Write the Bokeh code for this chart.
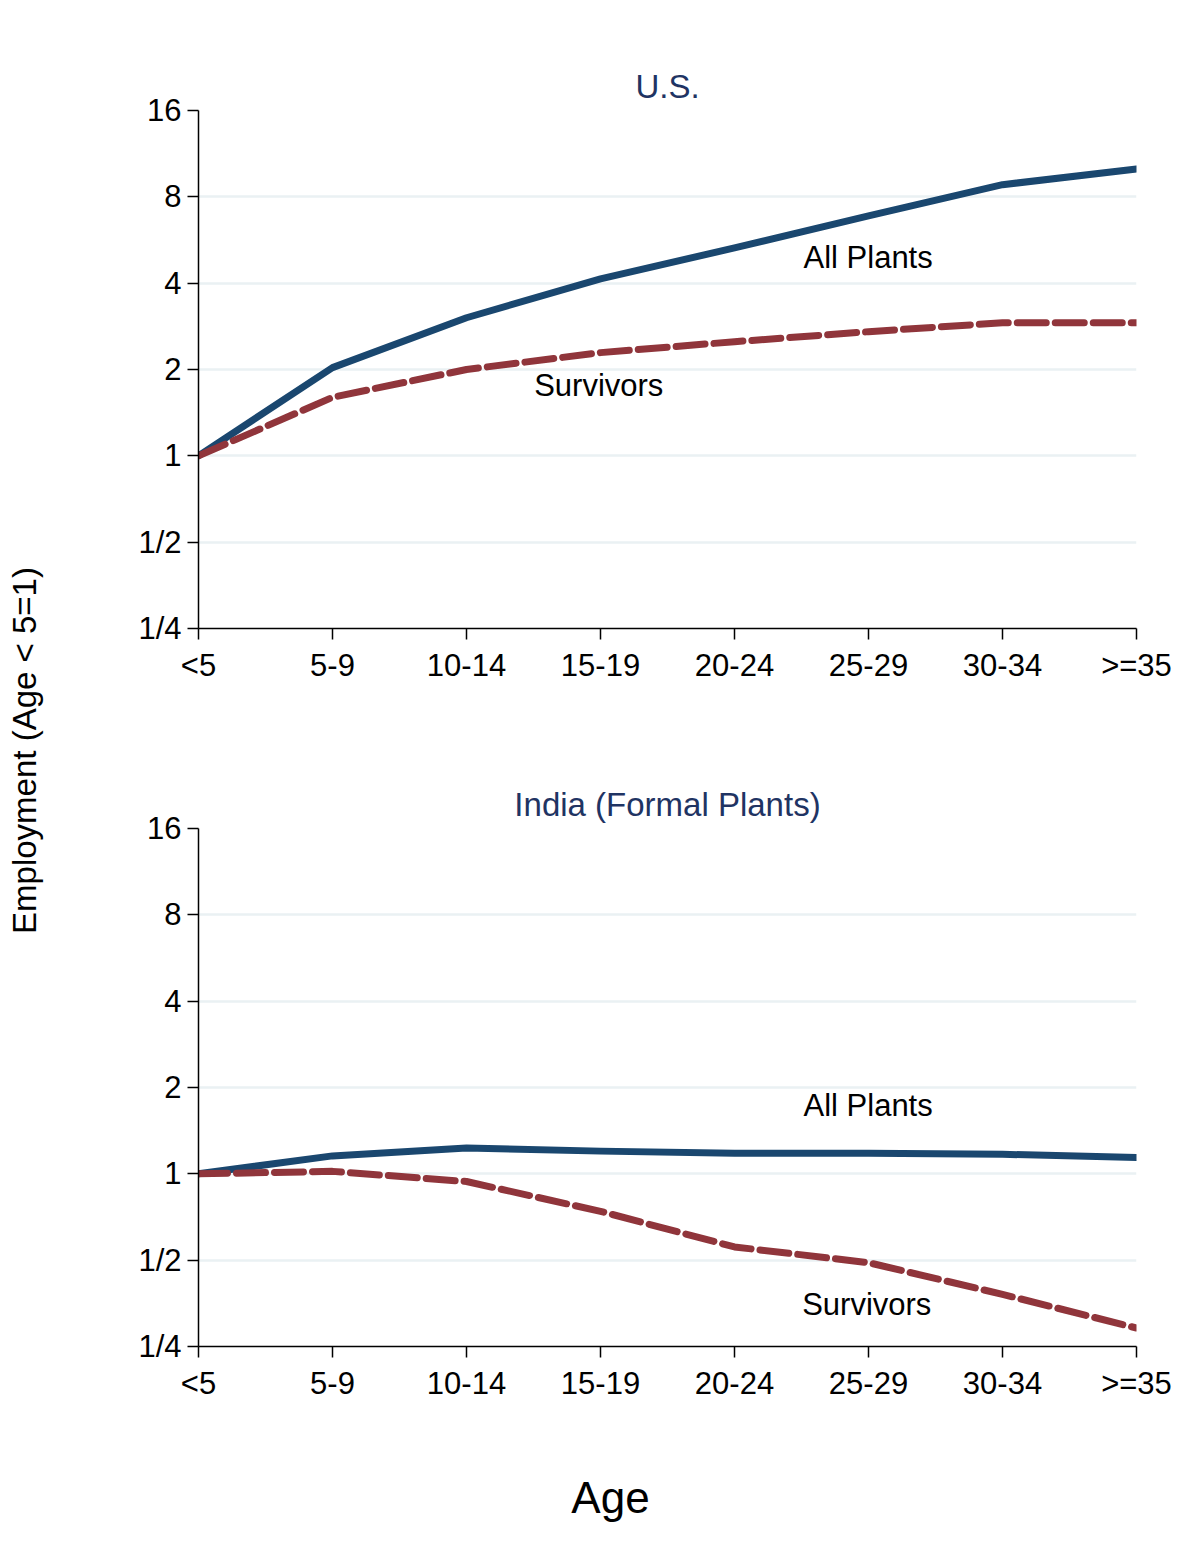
import math
from bokeh.plotting import figure
from bokeh.models import Range1d, FixedTicker, Label, ColumnDataSource
from bokeh.layouts import row, column
from bokeh.embed import file_html
from bokeh.resources import INLINE

# ---------------- data ----------------
categories = ["<5", "5-9", "10-14", "15-19", "20-24", "25-29", "30-34", ">=35"]
us_all = [1.0, 2.03, 3.03, 4.14, 5.31, 6.87, 8.82, 10.0]
us_survivors = [1.0, 1.60, 2.00, 2.29, 2.50, 2.71, 2.91, 2.91]
india_all = [1.0, 1.155, 1.23, 1.20, 1.18, 1.18, 1.17, 1.14]
india_survivors = [1.0, 1.02, 0.94, 0.74, 0.556, 0.49, 0.38, 0.29]
y_ticks = [0.25, 0.5, 1, 2, 4, 8, 16]
y_tick_labels = ["1/4", "1/2", "1", "2", "4", "8", "16"]
grid_ticks = [0.5, 1, 2, 4, 8]

FONT = "Liberation Sans"
BLUE = "#1a476f"
RED = "#90353b"
TITLE_C = "#1f3463"
GRID_C = "#eaf1f3"

STRIP_W = 58
W = 1132
LEFT, RIGHT = 140, 54
TOP_H, BOT_H, AGE_H = 740, 676, 134


def blank_fig(width, height):
    f = figure(width=width, height=height, x_range=Range1d(0, 1), y_range=Range1d(0, 1),
               output_backend="svg", toolbar_location=None,
               x_axis_location=None, y_axis_location=None,
               min_border_left=0, min_border_right=0, min_border_top=0, min_border_bottom=0)
    f.outline_line_color = None
    f.xgrid.visible = False
    f.ygrid.visible = False
    return f


def make_panel(title, all_vals, surv_vals, height, top, bottom, notes):
    p = figure(width=W, height=height, y_axis_type="log",
               x_range=Range1d(0, len(categories) - 1),
               y_range=Range1d(y_ticks[0], y_ticks[-1]),
               output_backend="svg", toolbar_location=None,
               min_border_left=LEFT, min_border_right=RIGHT,
               min_border_top=top, min_border_bottom=bottom)
    p.outline_line_color = None
    p.background_fill_color = "white"
    p.border_fill_color = "white"
    xs = list(range(len(categories)))
    src = ColumnDataSource(dict(x=xs, a=all_vals, s=surv_vals))
    p.line("x", "a", source=src, line_color=BLUE, line_width=7,
           line_cap="round", line_join="round")
    p.line("x", "s", source=src, line_color=RED, line_width=7,
           line_dash="29 9", line_cap="round", line_join="round")

    # axes
    p.xaxis.ticker = FixedTicker(ticks=xs)
    p.xaxis.major_label_overrides = {i: c for i, c in enumerate(categories)}
    p.yaxis.ticker = FixedTicker(ticks=y_ticks)
    p.yaxis.major_label_overrides = {float(t): l for t, l in zip(y_ticks, y_tick_labels)}
    for ax in (p.xaxis, p.yaxis):
        ax.axis_line_color = "black"
        ax.axis_line_width = 1.5
        ax.major_tick_line_color = "black"
        ax.major_tick_line_width = 1.5
        ax.major_tick_in = 0
        ax.major_tick_out = 11
        ax.minor_tick_line_color = None
        ax.major_label_text_font = FONT
        ax.major_label_text_font_size = "31px"
        ax.major_label_text_color = "black"
    p.xaxis.major_label_standoff = 8
    p.yaxis.major_label_standoff = 6

    p.xgrid.visible = False
    p.ygrid.ticker = FixedTicker(ticks=grid_ticks)
    p.ygrid.grid_line_color = GRID_C
    p.ygrid.grid_line_width = 2.5

    p.title.text = title
    p.title.align = "center"
    p.title.text_font = FONT
    p.title.text_font_size = "33px"
    p.title.text_font_style = "normal"
    p.title.text_color = TITLE_C
    p.title.standoff = 11

    for (tx, ty, txt) in notes:
        p.add_layout(Label(x=tx, y=ty, text=txt, text_font=FONT, text_font_size="31px",
                           text_color="black", text_align="left", text_baseline="middle"))
    return p


top_p = make_panel("U.S.", us_all, us_survivors, TOP_H, 110, 112,
                   [(4.515, 4.90, "All Plants"), (2.505, 1.754, "Survivors")])
bot_p = make_panel("India (Formal Plants)", india_all, india_survivors, BOT_H, 88, 70,
                   [(4.515, 1.727, "All Plants"), (4.505, 0.349, "Survivors")])

strip = blank_fig(STRIP_W, TOP_H + BOT_H)
strip.add_layout(Label(x=24, y=TOP_H + BOT_H - 750, x_units="screen", y_units="screen",
                       text="Employment (Age < 5=1)", angle=math.pi / 2,
                       text_font=FONT, text_font_size="33px", text_color="black",
                       text_align="center", text_baseline="middle"))

age_fig = blank_fig(STRIP_W + W, AGE_H)
age_fig.add_layout(Label(x=610, y=TOP_H + BOT_H + AGE_H - 1497, x_units="screen", y_units="screen",
                         text="Age", text_font=FONT, text_font_size="44px", text_color="black",
                         text_align="center", text_baseline="middle"))

layout = column(row(strip, column(top_p, bot_p)), age_fig)
open("out.html", "w").write(file_html(layout, INLINE))
